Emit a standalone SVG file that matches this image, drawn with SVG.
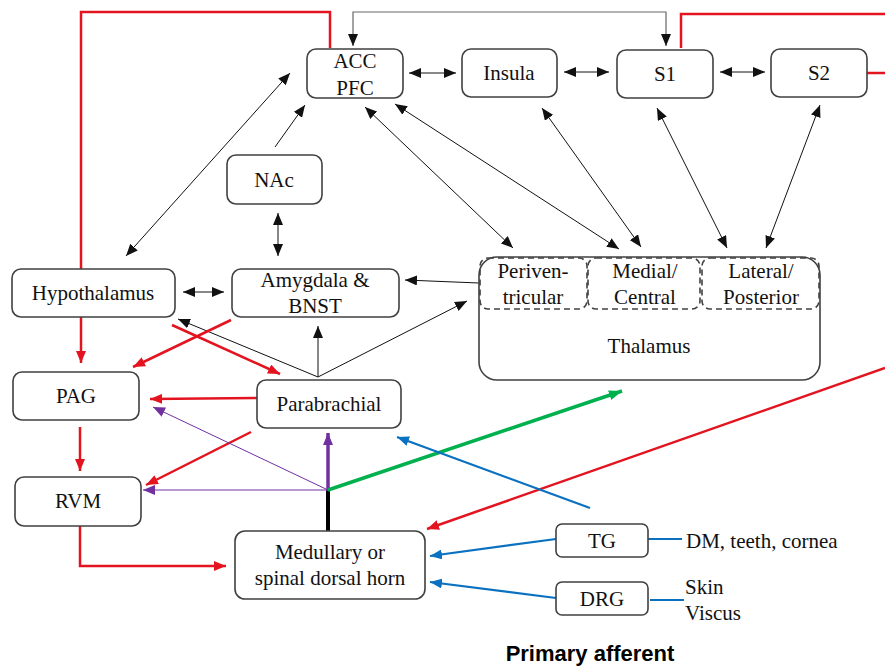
<svg xmlns="http://www.w3.org/2000/svg" width="885" height="666" viewBox="0 0 885 666">
<defs>
<marker id="ak" markerUnits="userSpaceOnUse" markerWidth="12" markerHeight="10" refX="12" refY="5" orient="auto-start-reverse"><path d="M0,0 L12,5 L0,10 z" fill="#111"/></marker>
<marker id="ar" markerUnits="userSpaceOnUse" markerWidth="12" markerHeight="10" refX="12" refY="5" orient="auto"><path d="M0,0 L12,5 L0,10 z" fill="#E3141F"/></marker>
<marker id="ab" markerUnits="userSpaceOnUse" markerWidth="12" markerHeight="10" refX="12" refY="5" orient="auto"><path d="M0,0 L12,5 L0,10 z" fill="#0A70C0"/></marker>
<marker id="ag" markerUnits="userSpaceOnUse" markerWidth="13" markerHeight="10" refX="13" refY="5" orient="auto"><path d="M0,0 L13,5 L0,10 z" fill="#00B04F"/></marker>
<marker id="ap" markerUnits="userSpaceOnUse" markerWidth="12" markerHeight="10" refX="12" refY="5" orient="auto"><path d="M0,0 L12,5 L0,10 z" fill="#7030A0"/></marker>
</defs>

<g id="connectors" fill="none">
  <polyline points="353,46 353,12 666,12 666,46" stroke="#666" stroke-width="1.2" marker-start="url(#ak)" marker-end="url(#ak)"/>
  <g stroke="#111" stroke-width="1">
    <line x1="409" y1="73" x2="456" y2="73" marker-start="url(#ak)" marker-end="url(#ak)"/>
    <line x1="564" y1="72" x2="609" y2="72" marker-start="url(#ak)" marker-end="url(#ak)"/>
    <line x1="720" y1="72" x2="765" y2="72" marker-start="url(#ak)" marker-end="url(#ak)"/>
    <line x1="126" y1="256" x2="290" y2="73" marker-start="url(#ak)" marker-end="url(#ak)"/>
    <line x1="275" y1="147" x2="305" y2="105" marker-end="url(#ak)"/>
    <line x1="278" y1="213" x2="278" y2="256" marker-start="url(#ak)" marker-end="url(#ak)"/>
    <line x1="183" y1="292" x2="224" y2="292" marker-start="url(#ak)" marker-end="url(#ak)"/>
    <line x1="479" y1="283" x2="405" y2="280" marker-end="url(#ak)"/>
    <line x1="365" y1="107" x2="513" y2="248" marker-start="url(#ak)" marker-end="url(#ak)"/>
    <line x1="395" y1="104" x2="619" y2="249" marker-start="url(#ak)" marker-end="url(#ak)"/>
    <line x1="542" y1="108" x2="641" y2="247" marker-start="url(#ak)" marker-end="url(#ak)"/>
    <line x1="657" y1="108" x2="727" y2="248" marker-start="url(#ak)" marker-end="url(#ak)"/>
    <line x1="820" y1="105" x2="766" y2="248" marker-start="url(#ak)" marker-end="url(#ak)"/>
    <line x1="318" y1="377" x2="178" y2="319" marker-end="url(#ak)"/>
    <line x1="318" y1="377" x2="318" y2="326" marker-end="url(#ak)"/>
    <line x1="318" y1="377" x2="467" y2="301" marker-end="url(#ak)"/>
  </g>
  <g stroke="#E3141F" stroke-width="2.5">
    <polyline points="81,269 81,12 330,12 330,48"/>
    <polyline points="681,48 681,14 885,14"/>
    <line x1="867" y1="73" x2="885" y2="73"/>
    <line x1="81" y1="317" x2="81" y2="363" marker-end="url(#ar)"/>
    <line x1="231" y1="320" x2="133" y2="367" marker-end="url(#ar)"/>
    <line x1="172" y1="325" x2="280" y2="374" marker-end="url(#ar)"/>
    <line x1="257" y1="398" x2="150" y2="399" marker-end="url(#ar)"/>
    <line x1="251" y1="432" x2="146" y2="485" marker-end="url(#ar)"/>
    <line x1="80" y1="427" x2="80" y2="471" marker-end="url(#ar)"/>
    <polyline points="80,526 80,566 226,566" marker-end="url(#ar)"/>
    <line x1="885" y1="368" x2="427" y2="529" marker-end="url(#ar)"/>
  </g>
  <line x1="328" y1="531" x2="328" y2="489" stroke="#000" stroke-width="4"/>
  <g stroke="#7030A0">
    <line x1="328" y1="490" x2="153" y2="407" stroke-width="1" marker-end="url(#ap)"/>
    <line x1="328" y1="490" x2="143" y2="490" stroke-width="1" marker-end="url(#ap)"/>
    <line x1="328" y1="491" x2="328" y2="433" stroke-width="3.5" marker-end="url(#ap)"/>
  </g>
  <line x1="328" y1="490" x2="622" y2="391" stroke="#00B04F" stroke-width="3.5" marker-end="url(#ag)"/>
  <g stroke="#0A70C0" stroke-width="2.2">
    <line x1="590" y1="508" x2="397" y2="437" marker-end="url(#ab)"/>
    <line x1="556" y1="539" x2="430" y2="556" marker-end="url(#ab)"/>
    <line x1="556" y1="598" x2="430" y2="582" marker-end="url(#ab)"/>
    <line x1="648" y1="539" x2="682" y2="539"/>
    <line x1="650" y1="600" x2="684" y2="600"/>
  </g>
</g>

<g id="nodes" style="font-family:'Liberation Serif','Times New Roman',serif !important;font-size:21px" fill="#111" text-anchor="middle">
<g id="acc"><rect fill="#fff" stroke="#404040" stroke-width="1.6" x="307" y="49" width="96" height="49" rx="9"/><text x="355" y="68">ACC</text><text x="355" y="95">PFC</text></g>
<g id="insula"><rect fill="#fff" stroke="#404040" stroke-width="1.6" x="462" y="49" width="95" height="48" rx="9"/><text x="509" y="80">Insula</text></g>
<g id="s1"><rect fill="#fff" stroke="#404040" stroke-width="1.6" x="617" y="50" width="96" height="48" rx="9"/><text x="665" y="81">S1</text></g>
<g id="s2"><rect fill="#fff" stroke="#404040" stroke-width="1.6" x="771" y="49" width="96" height="48" rx="9"/><text x="819" y="80">S2</text></g>
<g id="nac"><rect fill="#fff" stroke="#404040" stroke-width="1.6" x="227" y="155" width="95" height="49" rx="9"/><text x="274" y="187">NAc</text></g>
<g id="hypothalamus"><rect fill="#fff" stroke="#404040" stroke-width="1.6" x="12" y="269" width="163" height="48" rx="9"/><text x="93" y="300">Hypothalamus</text></g>
<g id="amygdala"><rect fill="#fff" stroke="#404040" stroke-width="1.6" x="232" y="269" width="167" height="48" rx="9"/><text x="315" y="287">Amygdala &amp;</text><text x="315" y="313">BNST</text></g>
<g id="thalamus">
  <rect fill="#fff" stroke="#404040" stroke-width="1.6" x="479" y="257" width="341" height="123" rx="18"/>
  <text x="649" y="353">Thalamus</text>
  <g id="periventricular"><rect fill="none" stroke="#404040" stroke-width="1.6" stroke-dasharray="6 4" x="480" y="258" width="107" height="51" rx="8"/><text x="533" y="278">Periven-</text><text x="533" y="304">tricular</text></g>
  <g id="medial"><rect fill="none" stroke="#404040" stroke-width="1.6" stroke-dasharray="6 4" x="588" y="258" width="112" height="51" rx="8"/><text x="645" y="278">Medial/</text><text x="645" y="304">Central</text></g>
  <g id="lateral"><rect fill="none" stroke="#404040" stroke-width="1.6" stroke-dasharray="6 4" x="702" y="258" width="117" height="51" rx="8"/><text x="761" y="278">Lateral/</text><text x="761" y="304">Posterior</text></g>
</g>
<g id="pag"><rect fill="#fff" stroke="#404040" stroke-width="1.6" x="13" y="372" width="126" height="48" rx="9"/><text x="76" y="403">PAG</text></g>
<g id="parabrachial"><rect fill="#fff" stroke="#404040" stroke-width="1.6" x="257" y="380" width="144" height="48" rx="9"/><text x="329" y="411">Parabrachial</text></g>
<g id="rvm"><rect fill="#fff" stroke="#404040" stroke-width="1.6" x="15" y="477" width="126" height="49" rx="9"/><text x="78" y="508">RVM</text></g>
<g id="medullary"><rect fill="#fff" stroke="#404040" stroke-width="1.6" x="235" y="531" width="190" height="68" rx="10"/><text x="330" y="559">Medullary or</text><text x="330" y="585">spinal dorsal horn</text></g>
<g id="tg"><rect fill="#fff" stroke="#404040" stroke-width="1.6" x="556" y="524" width="92" height="33" rx="6"/><text x="602" y="548">TG</text></g>
<g id="drg"><rect fill="#fff" stroke="#404040" stroke-width="1.6" x="556" y="582" width="92" height="33" rx="6"/><text x="602" y="606">DRG</text></g>
<text x="686" y="548" text-anchor="start">DM, teeth, cornea</text>
<text x="685" y="594" text-anchor="start">Skin</text>
<text x="685" y="620" text-anchor="start">Viscus</text>
</g>
<text x="590" y="661" style="font-family:'Liberation Sans',Arial,sans-serif;font-weight:bold;font-size:22px" text-anchor="middle" fill="#000">Primary afferent</text>
</svg>
